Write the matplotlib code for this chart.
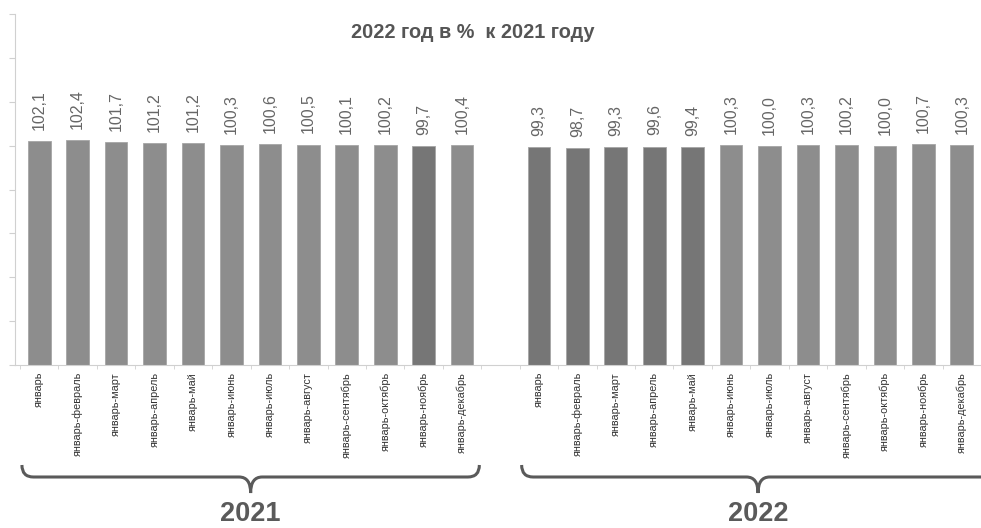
import matplotlib
matplotlib.use("Agg")
import matplotlib.pyplot as plt
from matplotlib.path import Path
from matplotlib.patches import PathPatch
import matplotlib.transforms as mtransforms

plt.rcParams['font.family'] = ['Liberation Sans', 'DejaVu Sans']

months = ['январь', 'январь-февраль', 'январь-март', 'январь-апрель',
          'январь-май', 'январь-июнь', 'январь-июль', 'январь-август',
          'январь-сентябрь', 'январь-октябрь', 'январь-ноябрь', 'январь-декабрь']
years = ['2021', '2022']
values_2021 = [102.1, 102.4, 101.7, 101.2, 101.2, 100.3, 100.6, 100.5, 100.1, 100.2, 99.7, 100.4]
values_2022 = [99.3, 98.7, 99.3, 99.6, 99.4, 100.3, 100.0, 100.3, 100.2, 100.0, 100.7, 100.3]
title = '2022 год в %  к 2021 году'

# positions: one empty slot between the two years
n = len(months)
x21 = list(range(n))
x22 = [n + 1 + i for i in range(n)]
xs = x21 + x22
vals = values_2021 + values_2022
labels = months + months
colors = ['#767676' if v < 100 else '#8d8d8d' for v in vals]

fig = plt.figure(figsize=(9.81, 5.28), dpi=100)
ax = fig.add_axes([15 / 981, 163 / 528, 966 / 981, 351 / 528])

ax.bar(xs, vals, width=0.59, color=colors, edgecolor='#a5a5a5', linewidth=0.6)

for x, v in zip(xs, vals):
    ax.annotate(f'{v:.1f}'.replace('.', ','), (x, v), xytext=(0, 8),
                textcoords='offset points', rotation=90, ha='center', va='bottom',
                fontsize=11.5, color='#666666')

ax.set_ylim(0, 160)
ax.set_yticks(range(0, 161, 20))
ax.set_yticklabels([])
ax.set_xlim(-0.63, 24.23)
ax.set_xticks(xs)
ax.set_xticklabels(labels, rotation=90, fontsize=7.8, color='#333333', va='top')
ax.tick_params(axis='x', which='major', length=0, pad=5)
ax.set_xticks([x - 0.5 for x in range(n * 2 + 2)], minor=True)
ax.tick_params(axis='x', which='minor', length=3, color='#d0d0d0')
ax.tick_params(axis='y', length=4, color='#d0d0d0')
for s in ['top', 'right']:
    ax.spines[s].set_visible(False)
ax.spines['left'].set_color('#d0d0d0')
ax.spines['bottom'].set_color('#d0d0d0')

fig.text(473 / 981, 1 - 32 / 528, title, ha='center', va='center',
         fontsize=14.3, fontweight='bold', color='#555555')

# braces under each year group, x in data units, y in figure fraction
trans = mtransforms.blended_transform_factory(ax.transData, fig.transFigure)
def brace(x0, x1, xc, label):
    ytop = 1 - 465 / 528
    yline = 1 - 477 / 528
    ytip = 1 - 493 / 528
    r = 0.3
    verts = [(x0, ytop), (x0, yline), (x0 + r, yline), (xc - r, yline),
             (xc, yline), (xc, ytip), (xc, yline), (xc + r, yline),
             (x1 - r, yline), (x1, yline), (x1, ytop)]
    codes = [Path.MOVETO, Path.CURVE3, Path.CURVE3, Path.LINETO,
             Path.CURVE3, Path.CURVE3, Path.CURVE3, Path.CURVE3,
             Path.LINETO, Path.CURVE3, Path.CURVE3]
    fig.add_artist(PathPatch(Path(verts, codes), transform=trans, fill=False,
                             edgecolor='#5a5a5a', linewidth=2.2, clip_on=False))
    fig.text(xc, 1 - 514 / 528, label, transform=trans, ha='center', va='center',
             fontsize=19.5, fontweight='bold', color='#5a5a5a')

brace(x21[0] - 0.45, x21[-1] + 0.45, (x21[0] + x21[-1]) / 2, years[0])
brace(x22[0] - 0.45, x22[-1] + 2.0, (x22[0] + x22[-1]) / 2 + 0.2, years[1])

fig.savefig('out.png', dpi=100)
